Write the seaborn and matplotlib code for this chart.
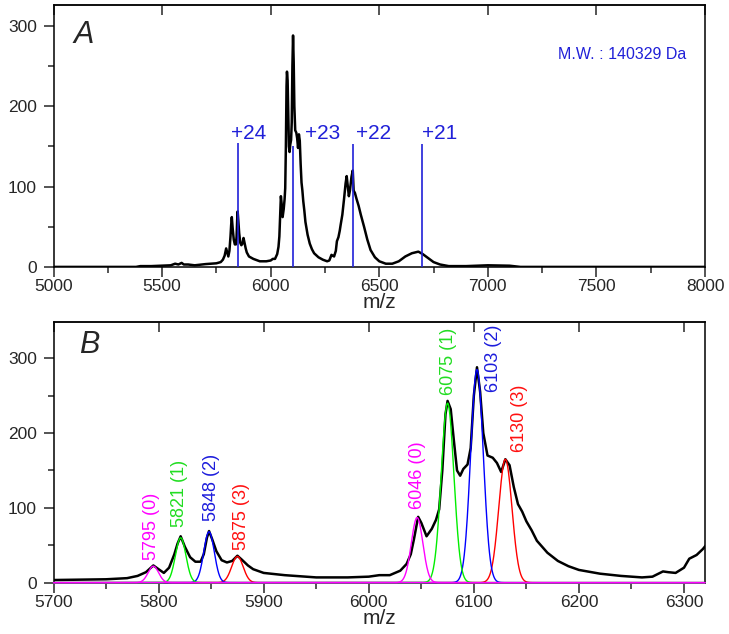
import numpy as np
import matplotlib
matplotlib.use("Agg")
import matplotlib.pyplot as plt
from matplotlib.ticker import MultipleLocator
import seaborn as sns

# mass spectrum (m/z, intensity)
mz = [5000, 5380, 5400, 5450, 5500, 5540, 5560, 5575, 5590, 5600, 5620, 5650,
      5700, 5750, 5770, 5780, 5788, 5795, 5800, 5805, 5810, 5815, 5818, 5821,
      5825, 5830, 5835, 5840, 5843, 5846, 5848, 5851, 5855, 5860, 5865, 5870,
      5875, 5879, 5885, 5890, 5900, 5920, 5950, 5980, 6000, 6010, 6020, 6030,
      6036, 6040, 6043, 6047, 6050, 6055, 6060, 6064, 6067, 6070, 6073, 6075,
      6078, 6081, 6084, 6087, 6090, 6094, 6097, 6100, 6103, 6106, 6109, 6113,
      6118, 6122, 6126, 6130, 6134, 6138, 6142, 6146, 6150, 6155, 6160, 6170,
      6180, 6190, 6200, 6220, 6240, 6260, 6270, 6280, 6285, 6292, 6300, 6305,
      6312, 6318, 6322, 6330, 6338, 6345, 6350, 6355, 6360, 6365, 6372, 6378,
      6382, 6388, 6395, 6405, 6415, 6430, 6445, 6460, 6480, 6500, 6530, 6560,
      6590, 6620, 6650, 6680, 6700, 6720, 6750, 6780, 6820, 6900, 6950, 7000,
      7100, 7150, 8000]
intensity = [0, 0, 1, 1, 1.5, 2, 4, 3, 5, 3, 3, 2,
             3.5, 4.5, 6, 9, 14, 23, 18, 13, 20, 38, 52, 62,
             48, 34, 28, 28, 38, 60, 69, 58, 42, 30, 27, 29,
             36, 31, 23, 18, 13, 10, 7, 7, 8, 10, 10, 16,
             25, 38, 58, 88, 80, 62, 72, 84, 98, 150, 225, 243,
             232, 190, 150, 143, 152, 158, 180, 250, 288, 255, 200, 170,
             167, 160, 148, 165, 157, 128, 105, 95, 82, 70, 56, 40,
             29, 22, 17, 12, 9, 7, 8, 15, 14, 13, 20, 32,
             37, 45, 52, 65, 85, 104, 113, 100, 88, 95, 112, 120,
             95, 92, 85, 76, 65, 50, 34, 21, 12, 7, 4, 4,
             7, 13, 17, 19, 16, 12, 6, 3, 1, 1, 1.5, 2,
             1.5, 0, 0]

# charge state markers (panel A)
charge_labels = ["+24", "+23", "+22", "+21"]
charge_mz = [5848, 6103, 6380, 6695]
charge_top = [154, 150, 153, 153]
charge_label_y = 159
charge_label_shift = [-4.5, 8.5, 2, 0]  # points

# gaussian components (panel B)
peak_labels = ["5795 (0)", "5821 (1)", "5848 (2)", "5875 (3)",
               "6046 (0)", "6075 (1)", "6103 (2)", "6130 (3)"]
peak_center = [5795, 5821, 5848, 5875, 6046, 6075, 6103, 6130]
peak_height = [22, 60, 68, 35, 87, 240, 285, 165]
peak_sigma = [5, 5, 5, 5.5, 5.5, 6, 6, 6.3]
peak_group = [0, 1, 2, 3, 0, 1, 2, 3]
label_x = [5793, 5819.5, 5850.5, 5879, 6046, 6076, 6118.5, 6143]
label_y = [30, 75, 83, 43, 99, 251, 255, 175]

group_colors = {0: "#ff00ff", 1: "#00ee00", 2: "#0000ff", 3: "#ff0000"}
label_colors = {0: "#ff00ff", 1: "#22dd22", 2: "#1c1cdc", 3: "#ff1010"}

sns.set_style("ticks")
plt.rcParams["font.family"] = ["Liberation Sans", "DejaVu Sans"]

fig = plt.figure(figsize=(7.29, 6.34), dpi=100)
axA = fig.add_axes([0.0734, 0.579, 0.8937, 0.4132])
axB = fig.add_axes([0.0734, 0.081, 0.8937, 0.4117])


def style_axes(ax, xmaj, xmin):
    for s in ax.spines.values():
        s.set_linewidth(1.1)
        s.set_color("black")
    ax.xaxis.set_major_locator(MultipleLocator(xmaj))
    ax.xaxis.set_minor_locator(MultipleLocator(xmin))
    ax.yaxis.set_major_locator(MultipleLocator(100))
    ax.yaxis.set_minor_locator(MultipleLocator(50))
    ax.tick_params(which="major", direction="out", length=7, width=1.1,
                   labelsize=12.5, pad=2, right=False, top=False)
    ax.tick_params(axis="y", which="major", pad=5)
    ax.tick_params(which="minor", direction="out", length=4.5, width=1.1,
                   right=False, top=False)
    top = ax.secondary_xaxis("top")
    top.xaxis.set_major_locator(MultipleLocator(xmaj))
    top.tick_params(direction="in", length=7, width=1.1, labeltop=False)
    top.spines["top"].set_linewidth(1.1)
    ax.set_xlabel("m/z", fontsize=15, labelpad=-1)
    ax.set_ylabel("")


# panel A
sns.lineplot(x=mz, y=intensity, ax=axA, color="black", lw=1.8,
             estimator=None, sort=False, zorder=2)
axA.vlines(charge_mz, 0, charge_top, color="#2020d8", lw=1.2, zorder=3)
for lab, x, dx in zip(charge_labels, charge_mz, charge_label_shift):
    axA.annotate(lab, (x, charge_label_y), xytext=(dx, 0),
                 textcoords="offset points", ha="left", va="baseline",
                 fontsize=15, color="#2020d8")
axA.text(0.774, 0.794, "M.W. : 140329 Da", transform=axA.transAxes,
         fontsize=11.5, color="#2020d8", ha="left", va="baseline")
axA.text(0.03, 0.855, "A", transform=axA.transAxes, fontsize=22,
         style="italic", ha="left", va="baseline")
axA.set_xlim(5000, 8000)
axA.set_ylim(0, 326)
style_axes(axA, 500, 250)

# panel B
xg = np.linspace(5700, 6320, 1500)
for g in [3, 2, 1, 0]:
    for c, h, s, pg in zip(peak_center, peak_height, peak_sigma, peak_group):
        if pg != g:
            continue
        yg = h * np.exp(-0.5 * ((xg - c) / s) ** 2)
        sns.lineplot(x=xg, y=yg, ax=axB, color=group_colors[g], lw=1.0,
                     estimator=None, zorder=3, clip_on=False)
sns.lineplot(x=mz, y=intensity, ax=axB, color="black", lw=1.8,
             estimator=None, sort=False, zorder=2.6)
for lab, x, y, g in zip(peak_labels, label_x, label_y, peak_group):
    axB.text(x, y, lab, rotation=90, ha="center", va="bottom",
             fontsize=13, color=label_colors[g])
axB.text(0.039, 0.88, "B", transform=axB.transAxes, fontsize=22,
         style="italic", ha="left", va="baseline")
axB.set_xlim(5700, 6320)
axB.set_ylim(0, 349)
style_axes(axB, 100, 50)

plt.savefig("out.png", dpi=100)
